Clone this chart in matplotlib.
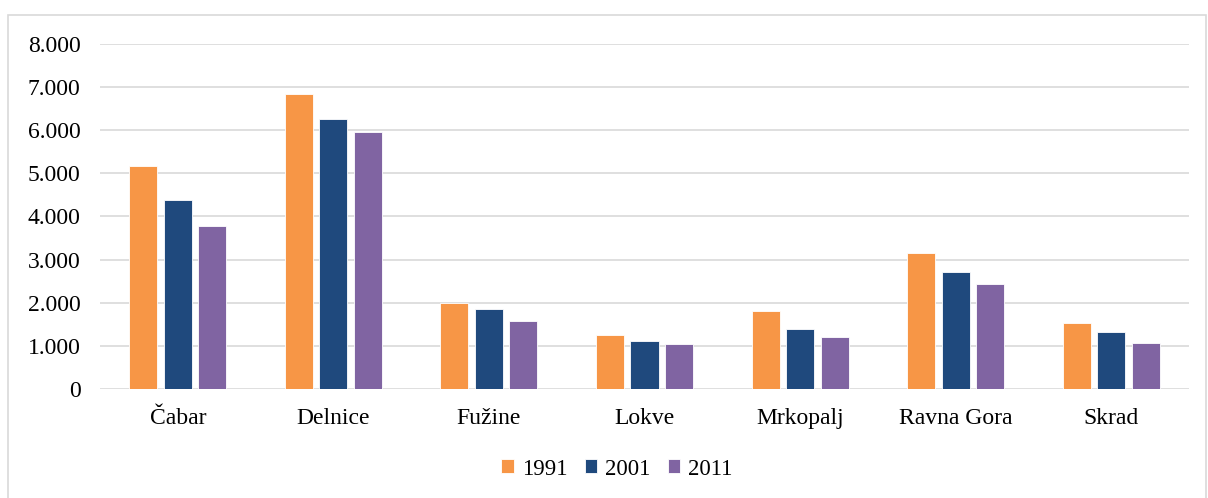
import matplotlib.pyplot as plt
import numpy as np
from matplotlib.patches import Rectangle
from matplotlib.ticker import FuncFormatter

plt.rcParams['font.family'] = ['Liberation Serif', 'DejaVu Serif']

towns = ['Čabar', 'Delnice', 'Fužine', 'Lokve', 'Mrkopalj', 'Ravna Gora', 'Skrad']
years = ['1991', '2001', '2011']
pop_1991 = [5159, 6841, 1992, 1251, 1807, 3150, 1537]
pop_2001 = [4378, 6254, 1846, 1104, 1397, 2718, 1320]
pop_2011 = [3769, 5946, 1583, 1042, 1205, 2424, 1058]
colors = ['#F79646', '#1F497D', '#8064A2']

fig = plt.figure(figsize=(12.08, 4.98), dpi=100)
ax = fig.add_axes([100 / 1208, 1 - 389 / 498, 1089 / 1208, (389 - 43.7) / 498])

# chart-area border
fig.patches.append(Rectangle((8 / 1208, -0.1), 1198 / 1208, 1.1 - 15 / 498,
                             transform=fig.transFigure, fill=False,
                             edgecolor='#D9D9D9', linewidth=1.2))

x = np.arange(len(towns))
slot = 0.222
for i, (vals, yr) in enumerate(zip([pop_1991, pop_2001, pop_2011], years)):
    ax.bar(x + (i - 1) * slot, vals, width=0.18, color=colors[i],
           edgecolor='white', linewidth=0.6, label=yr, zorder=3)

ax.set_xlim(-0.5, len(towns) - 0.5)
ax.set_ylim(0, 8000)
ax.set_yticks(range(0, 8001, 1000))
ax.yaxis.set_major_formatter(FuncFormatter(
    lambda v, p: '0' if v == 0 else f'{int(v):,}'.replace(',', '.')))
ax.set_xticks(x)
ax.set_xticklabels(towns)
ax.tick_params(axis='both', length=0, labelsize=17, colors='black')
ax.tick_params(axis='y', pad=14)
ax.tick_params(axis='x', pad=13.5)
ax.grid(axis='y', color='#D9D9D9', linewidth=1.2, zorder=0)
for s in ax.spines.values():
    s.set_visible(False)

fig.legend(loc='center', bbox_to_anchor=(617 / 1208, 1 - 469 / 498), ncol=3,
           frameon=False, fontsize=16.5, handlelength=0.55, handleheight=0.55,
           handletextpad=0.35, columnspacing=0.75)

fig.savefig('out.png', dpi=100)
